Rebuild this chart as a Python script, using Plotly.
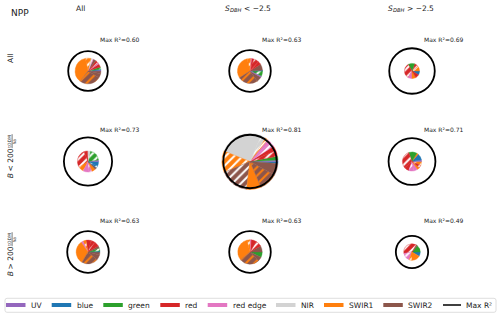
import plotly.graph_objects as go

W, H = 500, 318

# ---------------- data ----------------
band_names = ["UV", "blue", "green", "red", "red edge", "NIR", "SWIR1", "SWIR2"]
band_colors = ["#9467bd", "#1f77b4", "#2ca02c", "#d62728", "#e377c2", "#d3d3d3", "#ff7f0e", "#8c564b"]

main_title = "NPP"
col_title_plain = "All"
col_sym, col_sub = "S", "DBH"
col_rest = ["< \u22122.5", "> \u22122.5"]
row_title_plain = "All"
row_sym = "B"
row_rest = ["< 200", "> 200"]
unit_num, unit_den = "tODM", "ha"

max_r2 = [[0.60, 0.63, 0.69],
          [0.73, 0.81, 0.71],
          [0.63, 0.63, 0.49]]
pie_size = [[0.39, 0.38, 0.23],
            [0.32, 0.85, 0.29],
            [0.36, 0.37, 0.25]]

# slices: (band, hatch, share)   hatch: "" solid, "w" white hatch, "o" orange hatch
slices_r1c1 = [("SWIR2", "", 12), ("UV", "", 4), ("blue", "", 4), ("green", "w", 10),
               ("red", "", 15), ("red edge", "", 5), ("red", "w", 15), ("SWIR2", "", 12),
               ("red edge", "", 4), ("NIR", "w", 8), ("SWIR1", "w", 25), ("SWIR1", "", 131),
               ("SWIR2", "o", 95), ("SWIR2", "", 20)]
slices_r1c2 = [("green", "w", 25), ("blue", "", 3), ("SWIR2", "", 30), ("red", "", 15),
               ("red", "w", 25), ("red", "", 10), ("red edge", "", 5), ("SWIR1", "w", 15),
               ("SWIR1", "", 110), ("SWIR2", "o", 92), ("SWIR2", "", 25), ("UV", "", 5)]
slices_r1c3 = [("blue", "", 30), ("SWIR1", "w", 40), ("red", "w", 30), ("green", "", 50),
               ("red", "w", 120), ("red edge", "", 30), ("SWIR1", "", 30), ("red", "", 30)]
slices_r2c1 = [("blue", "", 25), ("UV", "", 8), ("green", "w", 70), ("NIR", "w", 15),
               ("red", "", 20), ("red", "w", 100), ("SWIR1", "w", 30), ("red edge", "", 30),
               ("red edge", "w", 20), ("SWIR1", "", 20), ("SWIR2", "", 10), ("blue", "w", 12)]
slices_r2c2 = [("blue", "", 4), ("UV", "", 3), ("green", "", 8), ("red", "w", 12),
               ("red", "", 10), ("red edge", "w", 10), ("red edge", "", 8), ("SWIR1", "w", 6),
               ("NIR", "w", 10), ("NIR", "", 91), ("SWIR1", "w", 45), ("SWIR2", "w", 60),
               ("SWIR1", "", 30), ("SWIR2", "o", 38), ("SWIR2", "", 25)]
slices_r2c3 = [("SWIR1", "w", 25), ("UV", "", 10), ("blue", "", 40), ("SWIR1", "", 10),
               ("green", "", 50), ("red", "w", 110), ("red", "", 30), ("red edge", "w", 30),
               ("red edge", "", 25), ("SWIR1", "", 15), ("red", "w", 15)]
slices_r3c1 = [("SWIR2", "", 15), ("blue", "", 5), ("green", "w", 15), ("SWIR2", "", 10),
               ("red", "", 25), ("red", "w", 20), ("red", "", 25), ("SWIR1", "w", 15),
               ("red edge", "", 10), ("SWIR1", "", 115), ("SWIR2", "o", 80), ("SWIR2", "", 25)]
slices_r3c2 = [("green", "", 25), ("SWIR2", "", 30), ("red", "w", 30), ("red", "", 25),
               ("red edge", "", 5), ("SWIR1", "w", 15), ("SWIR1", "", 115), ("SWIR2", "o", 95),
               ("SWIR2", "", 20)]
slices_r3c3 = [("blue", "", 30), ("green", "", 50), ("SWIR2", "", 10), ("red", "w", 130),
               ("red edge", "w", 60), ("SWIR1", "w", 20), ("SWIR1", "", 60)]

all_slices = [[slices_r1c1, slices_r1c2, slices_r1c3],
              [slices_r2c1, slices_r2c2, slices_r2c3],
              [slices_r3c1, slices_r3c2, slices_r3c3]]

# ---------------- layout constants ----------------
col_cx = [88, 250, 412]
row_cy = [71, 161.5, 252]
px_per_r2 = 33.0
hatch_fg = {"w": "white", "o": "#ff7f0e"}
FONT = "DejaVu Sans"
TXT = "#222222"

color_of = dict(zip(band_names, band_colors))

fig = go.Figure()
shapes = []
annotations = []


def ann(x, y, text, size, xanchor="center", style="normal", angle=0):
    annotations.append(dict(x=x, y=y, xref="x", yref="y", text=text, showarrow=False,
                            xanchor=xanchor, yanchor="middle", textangle=angle,
                            font=dict(size=size, color=TXT, style=style, family=FONT)))


for ri in range(3):
    for ci in range(3):
        cx, cy = col_cx[ci], row_cy[ri]
        sl = all_slices[ri][ci]
        labels = [f"{b} #{k+1}" + (" (hatched)" if h else "") for k, (b, h, v) in enumerate(sl)]
        vals = [v for (b, h, v) in sl]
        cols = [color_of[b] for (b, h, v) in sl]
        shp = ["/" if h else "" for (b, h, v) in sl]
        fgs = [hatch_fg[h] if h else "white" for (b, h, v) in sl]
        pr = pie_size[ri][ci] * px_per_r2
        fig.add_trace(go.Pie(
            values=vals, labels=labels, sort=False,
            direction="counterclockwise", rotation=90,
            textinfo="none", showlegend=False,
            marker=dict(colors=cols, line=dict(width=0.4, color=cols),
                        pattern=dict(shape=shp, fgcolor=fgs, bgcolor=cols,
                                     size=6, solidity=0.33, fillmode="replace")),
            domain=dict(x=[(cx - pr) / W, (cx + pr) / W],
                        y=[1 - (cy + pr) / H, 1 - (cy - pr) / H]),
        ))
        r = max_r2[ri][ci] * px_per_r2
        shapes.append(dict(type="circle", xref="x", yref="y",
                           x0=cx - r, x1=cx + r, y0=cy - r, y1=cy + r,
                           line=dict(color="black", width=1.8), layer="above"))
        ann(cx + 31, cy - 32, f"Max R\u00b2={max_r2[ri][ci]:.2f}", 6)

# ---- titles ----
ann(20, 12.7, main_title, 9)
ann(80, 8, col_title_plain, 7.5)
col_sx = [222.5, 386]
for k in range(2):
    sx = col_sx[k]
    ann(sx, 8, col_sym, 7.5, xanchor="left", style="italic")
    ann(sx + 5.2, 10, col_sub, 5.2, xanchor="left", style="italic")
    ann(sx + 19, 8, col_rest[k], 7.5, xanchor="left")

ann(10, 59, row_title_plain, 7.5, angle=-90)
row_top = [132.7, 230.7]
for k in range(2):
    t = row_top[k]
    ann(10, t + 43.5, row_sym, 7.5, style="italic", angle=-90)
    ann(10, t + 27.8, row_rest[k], 7.5, angle=-90)
    ann(9.6, t + 8.5, unit_num, 4.5, angle=-90)
    ann(14.4, t + 8.5, unit_den, 4.5, angle=-90)
    shapes.append(dict(type="line", xref="x", yref="y", x0=12.1, x1=12.1,
                       y0=t + 1.5, y1=t + 15.5, line=dict(color=TXT, width=0.6)))

# ---- legend (manual, matplotlib style) ----
lx0, lx1, ly0, ly1, rr = 5, 496, 298.3, 312.3, 2
shapes.append(dict(type="path", xref="x", yref="y",
                   path=(f"M {lx0+rr},{ly0} L {lx1-rr},{ly0} Q {lx1},{ly0} {lx1},{ly0+rr} "
                         f"L {lx1},{ly1-rr} Q {lx1},{ly1} {lx1-rr},{ly1} L {lx0+rr},{ly1} "
                         f"Q {lx0},{ly1} {lx0},{ly1-rr} L {lx0},{ly0+rr} Q {lx0},{ly0} {lx0+rr},{ly0} Z"),
                   line=dict(color="#d6d6d6", width=0.8), fillcolor="rgba(255,255,255,0.8)",
                   layer="above"))
leg_x = [6, 51.7, 103.3, 160.3, 207.7, 276, 324, 383.3]
leg_y = 305
for name, col, x in zip(band_names, band_colors, leg_x):
    shapes.append(dict(type="rect", xref="x", yref="y", x0=x, x1=x + 19.5,
                       y0=leg_y - 2, y1=leg_y + 2, line=dict(width=0), fillcolor=col,
                       layer="above"))
    ann(x + 23, leg_y, name, 7.5, xanchor="left")
mx = 443
shapes.append(dict(type="line", xref="x", yref="y", x0=mx, x1=mx + 18, y0=leg_y, y1=leg_y,
                   line=dict(color="black", width=1.5), layer="above"))
ann(mx + 21, leg_y, "Max R\u00b2", 7.5, xanchor="left")

fig.update_layout(
    width=W, height=H, margin=dict(l=0, r=0, t=0, b=0),
    paper_bgcolor="white", plot_bgcolor="white",
    font=dict(family=FONT, color=TXT),
    xaxis=dict(range=[0, W], visible=False, fixedrange=True),
    yaxis=dict(range=[H, 0], visible=False, fixedrange=True),
    shapes=shapes, annotations=annotations, showlegend=False,
)

fig.write_html("out.html")
